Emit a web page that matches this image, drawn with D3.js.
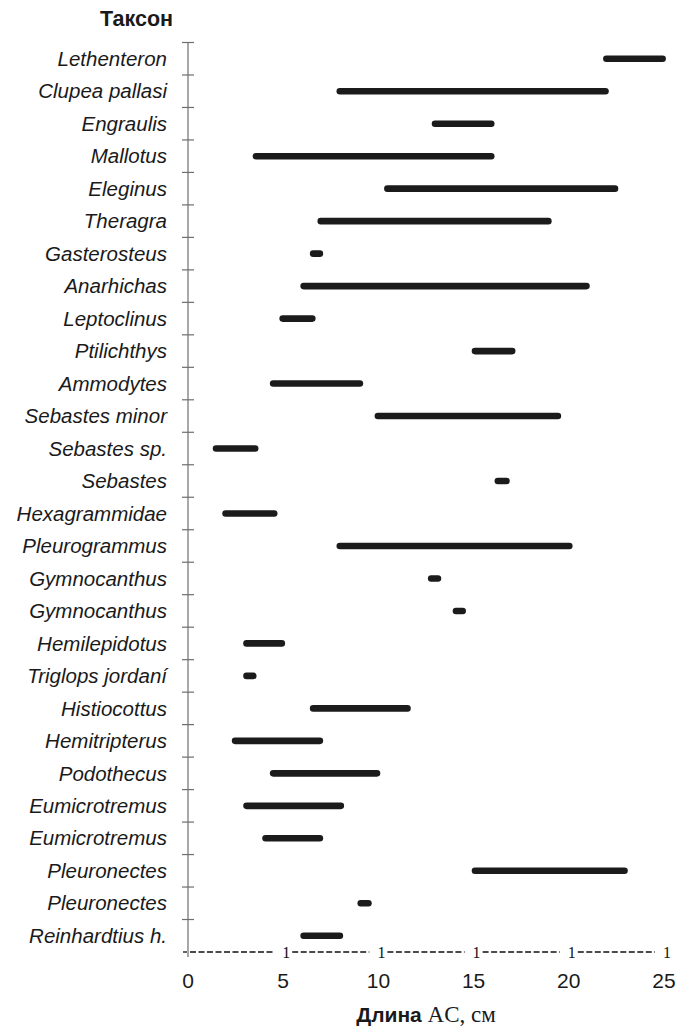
<!DOCTYPE html>
<html>
<head>
<meta charset="utf-8">
<script src="https://cdn.jsdelivr.net/npm/d3@7"></script>
<style>
  html, body { margin: 0; padding: 0; background: #fff; }
  svg { display: block; }
</style>
</head>
<body>
<div id="chart"></div>
<script>
// Taxa, top to bottom
const taxa = [
  "Lethenteron", "Clupea pallasi", "Engraulis", "Mallotus", "Eleginus",
  "Theragra", "Gasterosteus", "Anarhichas", "Leptoclinus", "Ptilichthys",
  "Ammodytes", "Sebastes minor", "Sebastes sp.", "Sebastes", "Hexagrammidae",
  "Pleurogrammus", "Gymnocanthus", "Gymnocanthus", "Hemilepidotus",
  "Triglops jordaní", "Histiocottus", "Hemitripterus", "Podothecus",
  "Eumicrotremus", "Eumicrotremus", "Pleuronectes", "Pleuronectes",
  "Reinhardtius h."
];
// Length range (cm) for each taxon
const minLen = [
  21.8, 7.8, 12.8, 3.4, 10.3,
  6.8, 6.4, 5.9, 4.8, 14.9,
  4.3, 9.8, 1.3, 16.1, 1.8,
  7.8, 12.6, 13.9, 2.9,
  2.9, 6.4, 2.3, 4.3,
  2.9, 3.9, 14.9, 8.9,
  5.9
];
const maxLen = [
  25.1, 22.1, 16.1, 16.1, 22.6,
  19.1, 7.1, 21.1, 6.7, 17.2,
  9.2, 19.6, 3.7, 16.9, 4.7,
  20.2, 13.3, 14.6, 5.1,
  3.6, 11.7, 7.1, 10.1,
  8.2, 7.1, 23.1, 9.65,
  8.15
];
const xTicks = [0, 5, 10, 15, 20, 25];
const yTitle = "Таксон";
const xTitleBold = "Длина";
const xTitleRest = " AC, см";

const W = 678, H = 1033;
const svg = d3.select("#chart").append("svg")
  .attr("width", W).attr("height", H);

const x = d3.scaleLinear().domain([0, 25]).range([188, 664]);
const y = d3.scaleBand().domain(d3.range(taxa.length)).range([42.5, 952]);
const axisY = 952;
const sans = "'Liberation Sans', Arial, sans-serif";
const serif = "'Liberation Serif', 'Times New Roman', serif";

// vertical axis with ticks at the band edges
const gy = svg.append("g");
gy.append("line")
  .attr("x1", x(0)).attr("x2", x(0))
  .attr("y1", y.range()[0]).attr("y2", axisY + 5)
  .attr("stroke", "#6e6e6e").attr("stroke-width", 1.2);
gy.selectAll("line.tick")
  .data(d3.range(taxa.length))
  .join("line")
  .attr("class", "tick")
  .attr("x1", x(0) - 6).attr("x2", x(0) + 6)
  .attr("y1", d => y(d)).attr("y2", d => y(d))
  .attr("stroke", "#6e6e6e").attr("stroke-width", 1.2);

// taxon labels
gy.selectAll("text.taxon")
  .data(taxa)
  .join("text")
  .attr("class", "taxon")
  .attr("x", 167)
  .attr("y", (d, i) => y(i) + y.bandwidth() / 2)
  .attr("dy", "0.35em")
  .attr("text-anchor", "end")
  .attr("font-family", sans)
  .attr("font-style", "italic")
  .attr("font-size", 20.5)
  .attr("fill", "#1a1a1a")
  .text(d => d);

// axis title
svg.append("text")
  .attr("x", 173).attr("y", 26)
  .attr("text-anchor", "end")
  .attr("font-family", sans)
  .attr("font-weight", "bold")
  .attr("font-size", 21.5)
  .attr("fill", "#1a1a1a")
  .text(yTitle);

// range bars
svg.append("g").selectAll("rect")
  .data(taxa.map((t, i) => ({ i, lo: minLen[i], hi: maxLen[i] })))
  .join("rect")
  .attr("x", d => x(d.lo))
  .attr("width", d => x(d.hi) - x(d.lo))
  .attr("y", d => y(d.i) + y.bandwidth() / 2 - 3.3)
  .attr("height", 6.6)
  .attr("rx", 3.3)
  .attr("fill", "#1b1b1b");

// dashed horizontal axis
const gx = svg.append("g");
gx.append("line")
  .attr("x1", x(0) - 5).attr("x2", x(0) - 1)
  .attr("y1", axisY).attr("y2", axisY)
  .attr("stroke", "#111").attr("stroke-width", 1.3);
gx.selectAll("line.seg")
  .data(xTicks.slice(0, -1))
  .join("line")
  .attr("class", "seg")
  .attr("x1", d => x(d) + (d === 0 ? 2 : 9))
  .attr("x2", d => x(d + 5) - 9)
  .attr("y1", axisY).attr("y2", axisY)
  .attr("stroke", "#111").attr("stroke-width", 1.4)
  .attr("stroke-dasharray", "6,2.5");
gx.selectAll("text.mark")
  .data(xTicks.slice(1))
  .join("text")
  .attr("class", "mark")
  .attr("x", d => x(d) + 3)
  .attr("y", axisY + 5.5)
  .attr("text-anchor", "middle")
  .attr("font-family", serif)
  .attr("font-size", 16)
  .attr("fill", "#111")
  .text("1");

// tick labels
gx.selectAll("text.tl")
  .data(xTicks)
  .join("text")
  .attr("class", "tl")
  .attr("x", d => x(d))
  .attr("y", 988)
  .attr("text-anchor", "middle")
  .attr("font-family", sans)
  .attr("font-size", 21)
  .attr("fill", "#1a1a1a")
  .text(d => d);

// x title: bold word + serif units
const xt = svg.append("text")
  .attr("x", (x(0) + x(25)) / 2)
  .attr("y", 1022)
  .attr("text-anchor", "middle")
  .attr("fill", "#1a1a1a");
xt.append("tspan")
  .attr("font-family", sans).attr("font-weight", "bold")
  .attr("font-size", 21)
  .text(xTitleBold);
xt.append("tspan")
  .attr("font-family", serif)
  .attr("font-size", 23)
  .text(xTitleRest);
</script>
</body>
</html>
